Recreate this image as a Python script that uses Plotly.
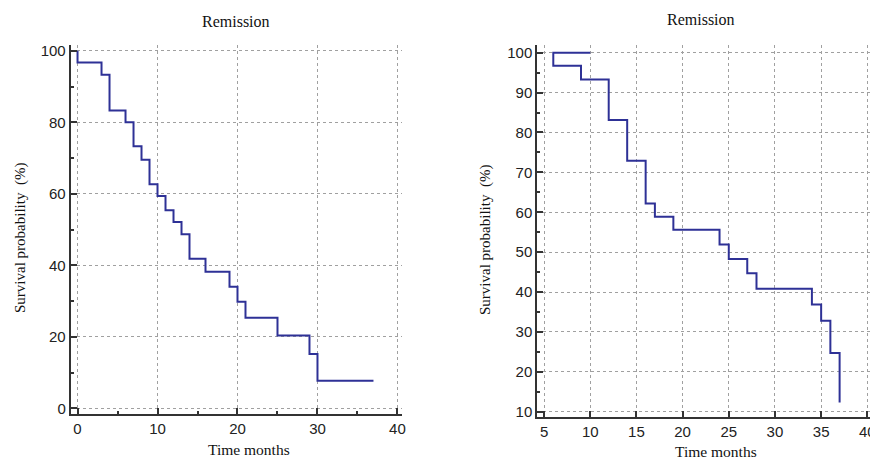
import plotly.graph_objects as go

# ---- data ----
times_left = [0, 3, 4, 6, 7, 8, 9, 10, 11, 12, 13, 14, 16, 19, 20, 21, 25, 29, 30]
surv_left = [96.7, 93.3, 83.3, 80.0, 73.3, 69.5, 62.7, 59.4, 55.4, 52.1, 48.7,
             41.8, 38.2, 34.0, 29.8, 25.3, 20.4, 15.2, 7.7]
start_left = 0
end_left = 37

times_right = [6, 9, 12, 14, 16, 17, 19, 24, 25, 27, 28, 34, 35, 36, 37]
surv_right = [96.7, 93.3, 83.1, 72.9, 62.2, 58.9, 55.6, 51.9, 48.3, 44.7, 40.8,
              36.9, 32.8, 24.7, 12.3]
start_right = 6
flat_end_right = 10
end_right = 37

title_text = "Remission"
x_title = "Time months"
y_title = "Survival probability\u00a0\u00a0(%)"


def step_path(t0, times, surv, t_end, lead=None):
    xs, ys = [], []
    if lead is not None:
        xs.append(lead)
        ys.append(100)
    xs.append(t0)
    ys.append(100)
    prev = 100
    for t, s in zip(times, surv):
        xs += [t, t]
        ys += [prev, s]
        prev = s
    xs.append(t_end)
    ys.append(prev)
    return xs, ys


LINE = "#2e3196"
xl, yl = step_path(start_left, times_left, surv_left, end_left)
xr, yr = step_path(start_right, times_right, surv_right, end_right, lead=flat_end_right)

fig = go.Figure()
fig.add_trace(go.Scatter(x=xl, y=yl, mode="lines", line=dict(color=LINE, width=2),
                         xaxis="x", yaxis="y", showlegend=False, hoverinfo="skip"))
fig.add_trace(go.Scatter(x=xr, y=yr, mode="lines", line=dict(color=LINE, width=2),
                         xaxis="x2", yaxis="y2", showlegend=False, hoverinfo="skip"))

tickfont = dict(family="Liberation Sans, Arial, sans-serif", size=15, color="#222")
SERIF = "Liberation Serif, Times New Roman, serif"

common = dict(showline=True, linecolor="#333", linewidth=2, showgrid=True,
              gridcolor="#a0a0a0", griddash="3px,3px", gridwidth=1, zeroline=False,
              ticks="inside", ticklen=6, tickcolor="#333", tickwidth=1.5,
              tickfont=tickfont, automargin=False, fixedrange=True,
              ticklabeloverflow="allow")

minor_style = dict(ticks="inside", ticklen=3, tickcolor="#333", showgrid=False)

fig.update_layout(
    width=870, height=460,
    margin=dict(l=0, r=0, t=0, b=0),
    paper_bgcolor="white", plot_bgcolor="white",
    xaxis=dict(domain=[0.0813, 0.462], range=[-0.85, 40.56], tickvals=[0, 10, 20, 30, 40],
               minor=dict(tickvals=[5, 15, 25, 35], **minor_style),
               anchor="y", **common),
    yaxis=dict(domain=[0.0993, 0.902], range=[-1.68, 101.6], tickvals=[0, 20, 40, 60, 80, 100],
               minor=dict(tickvals=[10, 30, 50, 70, 90], **minor_style),
               anchor="x", **common),
    xaxis2=dict(domain=[0.6176, 1.0], range=[4.27, 40.29],
                tickvals=[5, 10, 15, 20, 25, 30, 35, 40],
                anchor="y2", **common),
    yaxis2=dict(domain=[0.0928, 0.902], range=[8.6, 101.9],
                tickvals=[10, 20, 30, 40, 50, 60, 70, 80, 90, 100],
                minor=dict(tickvals=[15, 25, 35, 45, 55, 65, 75, 85, 95], **minor_style),
                anchor="x2", **common),
)


def px_note(text, px, py, size, angle=0):
    fig.add_annotation(text=text, x=px / 870, y=1 - py / 460, xref="paper", yref="paper",
                       xanchor="center", yanchor="middle", showarrow=False,
                       textangle=angle, font=dict(family=SERIF, size=size, color="#111"))


px_note(title_text, 236, 21.5, 16)
px_note(title_text, 701, 20, 16)
px_note(x_title, 249, 449, 15.5)
px_note(x_title, 716, 451.5, 15.5)
px_note(y_title, 20, 238, 15, -90)
px_note(y_title, 485, 240, 15, -90)

fig.write_html("out.html", config={"displayModeBar": False},
               post_script="document.body.style.margin='0';")
